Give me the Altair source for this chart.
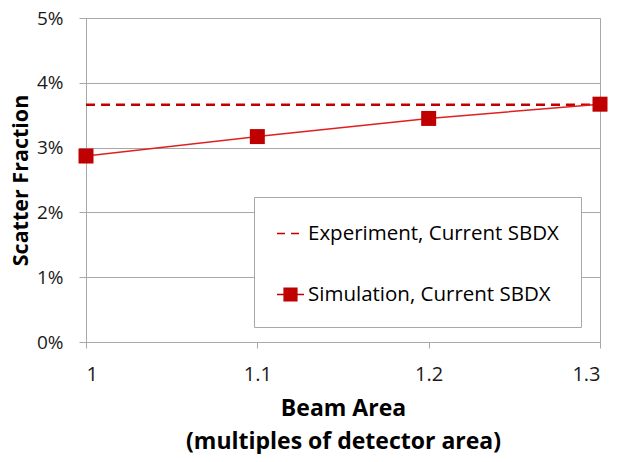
import altair as alt
import pandas as pd

# values
beam_area = [1.0, 1.1, 1.2, 1.3]
simulation = [0.0287, 0.0317, 0.0345, 0.0367]
experiment_x = [1.0, 1.3]
experiment = [0.0366, 0.0366]

series_names = ["Experiment, Current SBDX", "Simulation, Current SBDX"]
x_ticks = [1.0, 1.1, 1.2, 1.3]
y_ticks = [0.0, 0.01, 0.02, 0.03, 0.04, 0.05]

RED_LINE = "#e0201e"
RED_DARK = "#c00000"
GRID = "#a8a8a8"
FONT = "Open Sans"

sim_frame = pd.DataFrame(
    {"area": beam_area, "fraction": simulation, "series": series_names[1]}
)
exp_frame = pd.DataFrame(
    {"area": experiment_x, "fraction": experiment, "series": series_names[0]}
)
all_frame = pd.concat([exp_frame, sim_frame], ignore_index=True)

x_enc = alt.X(
    "area:Q",
    scale=alt.Scale(domain=[1.0, 1.3], nice=False, zero=False),
    axis=alt.Axis(
        values=x_ticks,
        format="~g",
        grid=False,
        tickSize=6,
        labelPadding=16,
        labelFontSize=20,
        title=["Beam Area", "(multiples of detector area)"],
        titleFontSize=23,
        titlePadding=13,
        titleLineHeight=33,
    ),
)
y_enc = alt.Y(
    "fraction:Q",
    scale=alt.Scale(domain=[0, 0.05], nice=False),
    axis=alt.Axis(
        values=y_ticks,
        format=".0%",
        grid=True,
        tickSize=7,
        labelPadding=16,
        labelFontSize=19,
        title="Scatter Fraction",
        titleFontSize=21.5,
        titlePadding=4,
    ),
)

exp_line = (
    alt.Chart(exp_frame)
    .mark_line(color=RED_DARK, strokeWidth=2.5, strokeDash=[9, 6])
    .encode(x=x_enc, y=y_enc)
)
sim_line = (
    alt.Chart(sim_frame)
    .mark_line(color=RED_LINE, strokeWidth=1.5)
    .encode(x="area:Q", y="fraction:Q")
)
sim_points = (
    alt.Chart(sim_frame)
    .mark_square(color=RED_DARK, size=225, opacity=1)
    .encode(x="area:Q", y="fraction:Q")
)

# invisible layer that only feeds the legend
legend_layer = (
    alt.Chart(all_frame)
    .mark_point(filled=True, stroke=RED_DARK, strokeWidth=2.5, opacity=0)
    .encode(
        x="area:Q",
        y="fraction:Q",
        color=alt.Color(
            "series:N",
            scale=alt.Scale(domain=series_names, range=[RED_DARK, RED_DARK]),
            legend=alt.Legend(
                title=None,
                orient="none",
                legendX=168,
                legendY=179,
                padding=22,
                rowPadding=36,
                labelOffset=3,
                symbolSize=729,
                symbolOpacity=1,
                labelFont=FONT,
                labelFontSize=20.5,
                labelColor="#000000",
                strokeColor=GRID,
                fillColor="#ffffff",
                labelLimit=400,
            ),
        ),
        shape=alt.Shape(
            "series:N",
            scale=alt.Scale(
                domain=series_names,
                range=["M-1,0H1", "M-1,0H1M-0.47,-0.47H0.47V0.47H-0.47Z"],
            ),
        ),
        strokeDash=alt.StrokeDash(
            "series:N",
            scale=alt.Scale(domain=series_names, range=[[8, 6], [1, 0]]),
        ),
    )
)

chart = (
    alt.layer(exp_line, sim_line, sim_points, legend_layer)
    .properties(
        width=514,
        height=324,
        autosize=alt.AutoSizeParams(type="none"),
        padding={"left": 78, "top": 10, "right": 13, "bottom": 112},
        background="#ffffff",
    )
    .configure_view(stroke=GRID, strokeWidth=1)
    .configure_axis(
        labelFont=FONT,
        labelColor="#1a1a1a",
        titleFont=FONT,
        titleFontWeight="bold",
        titleColor="#000000",
        domainColor=GRID,
        tickColor=GRID,
        gridColor=GRID,
    )
)

chart.save("out.html", embed_options={"renderer": "svg", "actions": False})
